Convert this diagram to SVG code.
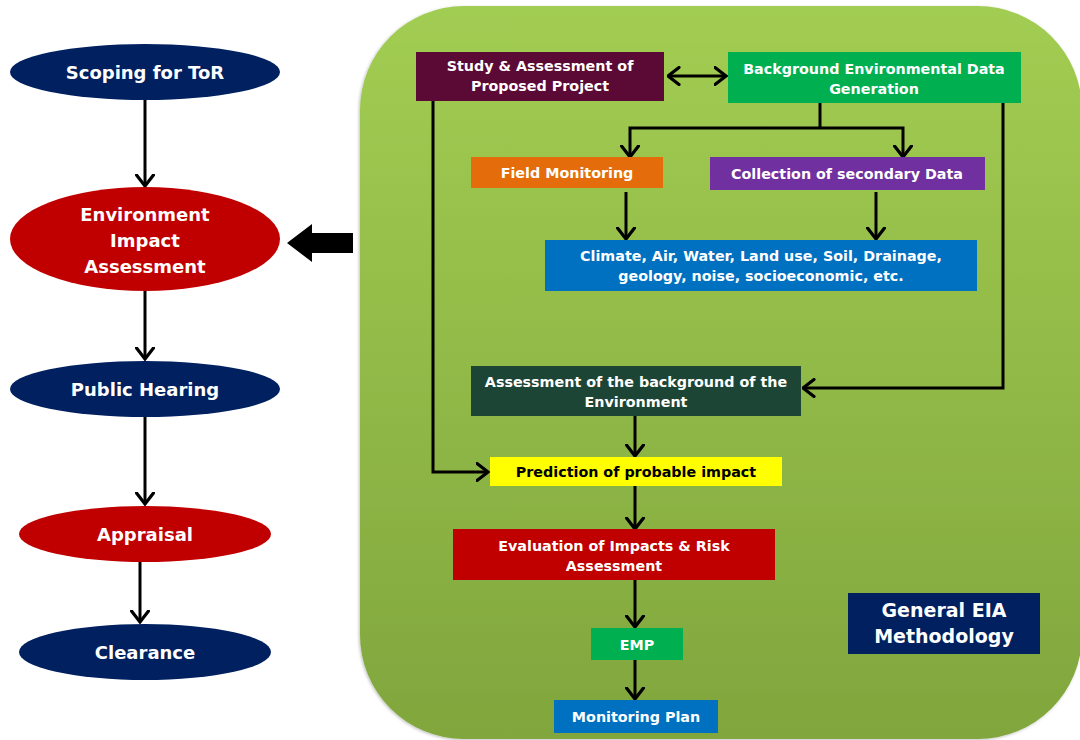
<svg xmlns="http://www.w3.org/2000/svg" width="1080" height="740" viewBox="0 0 1080 740">
  <style>
    .t { font-family: "DejaVu Sans", "Liberation Sans", sans-serif; font-weight: bold; fill: #ffffff; text-anchor: middle; }
    .s { font-size: 14.3px; }
    .m { font-size: 18px; }
    .l { font-size: 19px; }
    .dark { fill: #000000; }
    .edge { fill: none; stroke: #000000; stroke-width: 3; }
    .edge-end { marker-end: url(#head); }
  </style>
  <defs>
    <linearGradient id="panelFill" x1="0" y1="0" x2="0" y2="1">
      <stop offset="0" stop-color="#a2cd52"/>
      <stop offset="1" stop-color="#80a63d"/>
    </linearGradient>
    <filter id="soft" x="-5%" y="-5%" width="110%" height="110%">
      <feDropShadow dx="-1" dy="1" stdDeviation="1.5" flood-color="#000000" flood-opacity="0.25"/>
    </filter>
    <marker id="head" viewBox="0 0 14 20" refX="12.5" refY="10" markerWidth="14" markerHeight="20" markerUnits="userSpaceOnUse" orient="auto-start-reverse">
      <path d="M1.5,1.5 L12.5,10 L1.5,18.5" fill="none" stroke="#000000" stroke-width="3.2" stroke-linecap="round" stroke-linejoin="miter"/>
    </marker>
  </defs>

  <rect x="0" y="0" width="1080" height="740" fill="#ffffff"/>

  <!-- methodology panel -->
  <g id="panel">
    <rect x="360" y="6" width="722" height="733" rx="104" ry="104" fill="url(#panelFill)" filter="url(#soft)"/>
  </g>

  <!-- connectors -->
  <g id="connectors">
    <!-- left-hand process chain -->
    <line class="edge edge-end" x1="145" y1="100" x2="145" y2="186"/>
    <line class="edge edge-end" x1="145" y1="290" x2="145" y2="359"/>
    <line class="edge edge-end" x1="145" y1="417" x2="145" y2="504"/>
    <line class="edge edge-end" x1="140" y1="562" x2="140" y2="622"/>
    <!-- block arrow pointing at the EIA stage -->
    <polygon points="287,243 312,224 312,233 353,233 353,253 312,253 312,262" fill="#000000"/>
    <!-- methodology flow -->
    <line class="edge edge-end" x1="668" y1="76" x2="726" y2="76" style="marker-start:url(#head)"/>
    <polyline class="edge" points="820,103 820,128"/>
    <polyline class="edge edge-end" points="820,128 630,128 630,157"/>
    <polyline class="edge edge-end" points="820,128 903,128 903,157"/>
    <line class="edge edge-end" x1="626" y1="192" x2="626" y2="239"/>
    <line class="edge edge-end" x1="876" y1="192" x2="876" y2="239"/>
    <polyline class="edge edge-end" points="433,101 433,472 488,472"/>
    <polyline class="edge edge-end" points="1003,103 1003,388 803,388"/>
    <line class="edge edge-end" x1="635" y1="416" x2="635" y2="456"/>
    <line class="edge edge-end" x1="635" y1="486" x2="635" y2="529"/>
    <line class="edge edge-end" x1="635" y1="580" x2="635" y2="627"/>
    <line class="edge edge-end" x1="635" y1="660" x2="635" y2="699"/>
  </g>

  <!-- left-hand stages -->
  <g id="scoping">
    <ellipse cx="145" cy="72" rx="135" ry="28" fill="#002060"/>
    <text class="t m" x="145" y="79">Scoping for ToR</text>
  </g>
  <g id="eia">
    <ellipse cx="145" cy="239" rx="135" ry="52" fill="#c00000"/>
    <text class="t m" x="145" y="221">Environment</text>
    <text class="t m" x="145" y="247">Impact</text>
    <text class="t m" x="145" y="273">Assessment</text>
  </g>
  <g id="public-hearing">
    <ellipse cx="145" cy="389" rx="135" ry="28" fill="#002060"/>
    <text class="t m" x="145" y="396">Public Hearing</text>
  </g>
  <g id="appraisal">
    <ellipse cx="145" cy="534" rx="126" ry="28" fill="#c00000"/>
    <text class="t m" x="145" y="541">Appraisal</text>
  </g>
  <g id="clearance">
    <ellipse cx="145" cy="652" rx="126" ry="28" fill="#002060"/>
    <text class="t m" x="145" y="659">Clearance</text>
  </g>

  <!-- methodology steps -->
  <g id="study">
    <rect x="416" y="52" width="248" height="49" fill="#5b0a35"/>
    <text class="t s" x="540" y="71">Study &amp; Assessment of</text>
    <text class="t s" x="540" y="91">Proposed Project</text>
  </g>
  <g id="background-data">
    <rect x="728" y="52" width="293" height="51" fill="#00b050"/>
    <text class="t s" x="874" y="74">Background Environmental Data</text>
    <text class="t s" x="874" y="94">Generation</text>
  </g>
  <g id="field-monitoring">
    <rect x="471" y="157" width="192" height="31" fill="#e46c0a"/>
    <text class="t s" x="567" y="178">Field Monitoring</text>
  </g>
  <g id="secondary-data">
    <rect x="710" y="157" width="275" height="33" fill="#7030a0"/>
    <text class="t s" x="847" y="179">Collection of secondary Data</text>
  </g>
  <g id="parameters">
    <rect x="545" y="240" width="432" height="51" fill="#0070c0"/>
    <text class="t s" x="761" y="261">Climate, Air, Water, Land use, Soil, Drainage,</text>
    <text class="t s" x="761" y="281">geology, noise, socioeconomic, etc.</text>
  </g>
  <g id="background-assessment">
    <rect x="471" y="366" width="330" height="50" fill="#1d4536"/>
    <text class="t s" x="636" y="387">Assessment of the background of the</text>
    <text class="t s" x="636" y="407">Environment</text>
  </g>
  <g id="prediction">
    <rect x="490" y="457" width="292" height="29" fill="#ffff00"/>
    <text class="t s dark" x="636" y="477">Prediction of probable impact</text>
  </g>
  <g id="evaluation">
    <rect x="453" y="529" width="322" height="51" fill="#c00000"/>
    <text class="t s" x="614" y="551">Evaluation of Impacts &amp; Risk</text>
    <text class="t s" x="614" y="571">Assessment</text>
  </g>
  <g id="emp">
    <rect x="591" y="628" width="92" height="32" fill="#00b050"/>
    <text class="t s" x="637" y="650">EMP</text>
  </g>
  <g id="monitoring-plan">
    <rect x="554" y="700" width="164" height="33" fill="#0070c0"/>
    <text class="t s" x="636" y="722">Monitoring Plan</text>
  </g>
  <g id="title">
    <rect x="848" y="593" width="192" height="61" fill="#002060"/>
    <text class="t l" x="944" y="617">General EIA</text>
    <text class="t l" x="944" y="643">Methodology</text>
  </g>
</svg>
